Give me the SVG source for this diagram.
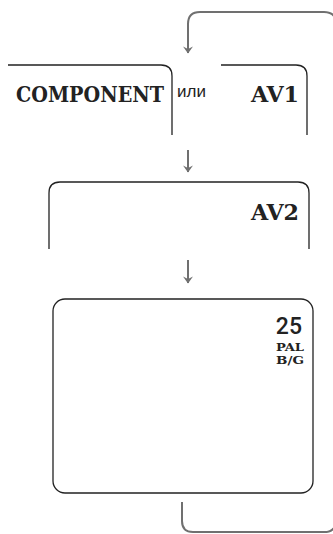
<svg xmlns="http://www.w3.org/2000/svg" width="333" height="534" viewBox="0 0 333 534">
<style>
.box{fill:none;stroke:#222;stroke-width:1.3}
.conn{fill:none;stroke:#707070;stroke-width:2}
.mono{font-family:"DejaVu Serif Condensed","DejaVu Serif","Liberation Serif",serif;font-weight:bold;fill:#222}
.sans{font-family:"Liberation Sans",Arial,sans-serif;fill:#222}
</style>
<defs>
<marker id="ad" markerUnits="userSpaceOnUse" markerWidth="11" markerHeight="9" refX="5" refY="8" orient="0" viewBox="0 0 10 9">
<path d="M0,1.5 L5,8.5 L10,1.5 L5,4 Z" fill="#707070"/>
</marker>
</defs>
<rect width="333" height="534" fill="#fff"/>
<g id="connectors">
<path class="conn" d="M182,502 V521 Q182,532 193,532 H324 Q336,532 336,520 V24 Q336,12 324,12 H200 Q188,12 188,24 V53" marker-end="url(#ad)"/>
<path class="conn" d="M188,150 V172" marker-end="url(#ad)"/>
<path class="conn" d="M188,260 V283" marker-end="url(#ad)"/>
</g>
<g id="component">
<path class="box" d="M8,65 H161 Q172,65 172,76 V135"/>
<text class="mono" x="16" y="102" font-size="23" textLength="148" lengthAdjust="spacingAndGlyphs">COMPONENT</text>
</g>
<g id="ili">
<text class="sans" x="177" y="97" font-size="17">или</text>
</g>
<g id="av1">
<path class="box" d="M221,65 H296 Q307,65 307,76 V135"/>
<text class="mono" x="251" y="102" font-size="23" textLength="48" lengthAdjust="spacingAndGlyphs">AV1</text>
</g>
<g id="av2">
<path class="box" d="M49,249 V193 Q49,182 60,182 H298 Q309,182 309,193 V249"/>
<text class="mono" x="251" y="220" font-size="23" textLength="48" lengthAdjust="spacingAndGlyphs">AV2</text>
</g>
<g id="screen">
<rect class="box" x="53" y="299" width="260" height="194" rx="12" ry="12"/>
<text x="302" y="334" font-family="Roboto,'DejaVu Sans',sans-serif" font-weight="500" font-size="23" text-anchor="end" fill="#222">25</text>
<text class="mono" x="276" y="351" font-size="11" textLength="28" lengthAdjust="spacingAndGlyphs">PAL</text>
<text class="mono" x="276" y="364" font-size="11" textLength="28" lengthAdjust="spacingAndGlyphs">B/G</text>
</g>
</svg>
